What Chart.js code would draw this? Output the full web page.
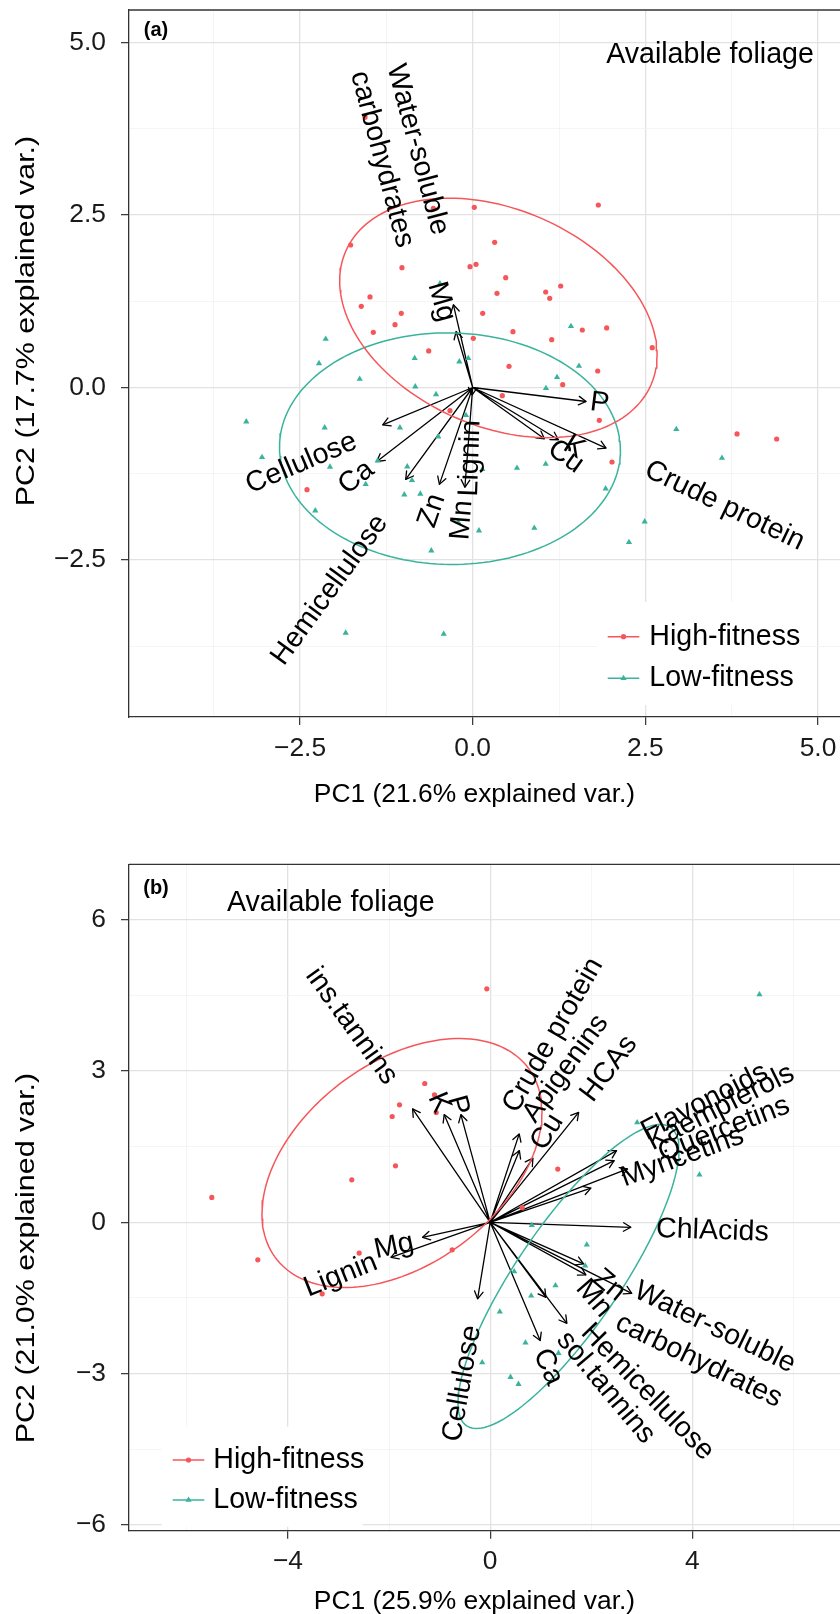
<!DOCTYPE html>
<html><head><meta charset="utf-8">
<script src="https://cdn.jsdelivr.net/npm/chart.js@4.4.1/dist/chart.umd.min.js"></script>
<style>
html,body{margin:0;padding:0;background:#fff;}
#wrapA{position:absolute;left:0;top:0;width:840px;height:830px;}
#wrapB{position:absolute;left:0;top:830px;width:840px;height:784px;}
canvas{display:block;}
</style></head><body>
<div id="wrapA"><canvas id="cA" width="840" height="830"></canvas></div>
<div id="wrapB"><canvas id="cB" width="840" height="784"></canvas></div>
<script>
// ---------------- DATA : panel (a) ----------------
const groups = ['High-fitness', 'Low-fitness'];
const highA_pc1 = [-1.559,-0.570,0.023,-1.767,-1.024,-0.039,0.048,-1.487,-1.613,-1.034,-1.125,-1.439,0.009,-0.637,1.819,0.318,0.478,0.352,1.057,1.115,1.274,0.145,0.583,1.144,1.587,1.94,2.6,-0.329,-2.399,0.526,1.81,1.303,0.429,1.833,2.017,3.827,4.401];
const highA_pc2 = [3.913,2.595,2.61,2.064,1.735,1.75,1.784,1.311,1.176,1.074,0.91,0.799,0.712,0.529,2.643,2.103,1.59,1.364,1.383,1.292,1.47,1.074,0.808,0.692,0.833,0.862,0.577,-0.336,-1.48,0.307,0.239,0.041,-0.119,-0.475,-1.079,-0.673,-0.746];
const lowA_pc1 = [-2.128,-0.474,-0.84,-0.064,-2.225,-0.194,-1.636,-0.831,-0.531,-3.278,-2.143,-1.053,-0.498,-0.097,-3.05,-2.066,-1.376,-0.947,-0.879,-1.549,-0.99,-0.758,-2.279,-0.208,0.091,-0.599,-1.839,-0.42,1.423,1.539,1.221,1.061,2.948,3.609,0.641,1.057,1.925,0.892,2.49,2.263,0.14];
const lowA_pc2 = [0.702,1.503,0.423,0.423,0.35,0.374,0.123,0.012,-0.099,-0.495,-0.582,-0.582,-0.712,-0.403,-1.011,-1.151,-1.06,-1.147,-1.344,-1.402,-1.552,-1.542,-1.784,-1.952,-2.074,-2.363,-3.555,-3.57,0.886,0.311,0.148,-0.012,-0.605,-1.021,-1.166,-1.108,-1.465,-2.035,-1.943,-2.242,-1.185];
const varsA = ['Water-soluble carbohydrates','Mg','P','Crude protein','Cu','K','Lignin','Cellulose','Ca','Hemicellulose','Zn','Mn'];
const loadA_pc1 = [-0.279,-0.240,1.642,1.931,1.038,1.241,-0.01,-1.303,-1.387,-0.970,-0.482,-0.113];
const loadA_pc2 = [1.198,0.811,-0.203,-0.878,-0.743,-0.757,-0.11,-0.54,-1.072,-1.332,-1.403,-1.445];
// ellipse: centre pc1, centre pc2, half-width pc1, half-height pc2, pc2 offset at the pc1 extreme
const ellHighA = [0.372, 1.007, 2.298, 1.734, -0.536];
const ellLowA  = [-0.329, -0.886, 2.468, 1.677, -0.025];
const xTicksA = [-3.75,-2.5,-1.25,0,1.25,2.5,3.75,5];
const xTickLabelsA = ['','\u22122.5','','0.0','','2.5','','5.0'];
const yTicksA = [-3.75,-2.5,-1.25,0,1.25,2.5,3.75,5];
const yTickLabelsA = ['','\u22122.5','','0.0','','2.5','','5.0'];

// ---------------- DATA : panel (b) ----------------
const highB_pc1 = [-1.294,-1.102,-1.794,-1.939,-1.068,-1.873,-2.738,-5.507,-0.067,1.337,-4.597,-2.592,-3.324,-0.752,0.633];
const highB_pc2 = [2.751,2.527,2.329,2.097,2.176,1.12,0.842,0.492,4.628,1.054,-0.743,-0.611,-1.417,-0.545,0.293];
const lowB_pc1 = [5.327,2.908,4.14,0.823,1.911,1.879,0.475,1.292,0.811,0.19,0.698,1.351,-0.158,0.402,0.56];
const lowB_pc2 = [4.515,1.978,0.942,-0.056,-0.446,-0.862,-0.975,-1.253,-1.457,-1.774,-2.388,-2.593,-2.779,-3.068,-3.207];
const varsB = ['ins.tannins','K','P','Crude protein','Apigenins','Cu','HCAs','Flavonoids','Kaempferols','Quercetins','Myricetins','ChlAcids','Zn','Mn','Water-soluble carbohydrates','Hemicellulose','sol.tannins','Ca','Cellulose','Mg','Lignin'];
const loadB_pc1 = [-1.535,-0.91,-0.58,0.574,0.578,0.845,1.75,2.50,2.453,2.718,1.992,2.783,1.848,1.893,2.8,1.517,1.102,0.989,-0.249,-1.337,-1.964];
const loadB_pc2 = [2.248,2.135,2.135,1.752,1.421,1.273,2.18,1.421,1.223,1.058,0.678,-0.099,-0.825,-1.043,-1.41,-2.002,-1.487,-2.345,-1.518,-0.297,-0.694];
const ellHighB = [-1.745, 1.175, 2.77, 2.468, 1.01];
const ellLowB  = [1.549, -1.074, 2.186, 3.013, 2.507];
const xTicksB = [-6,-4,-2,0,2,4,6];
const xTickLabelsB = ['','\u22124','','0','','4',''];
const yTicksB = [-6,-4.5,-3,-1.5,0,1.5,3,4.5,6];
const yTickLabelsB = ['\u22126','','\u22123','','0','','3','','6'];

// ---------------- text annotations (anchor in data units, rotation in degrees) ----------------
const labelsA = [
  {t:'Water-soluble\ncarbohydrates', x:-1.057, y:3.374, a:-75},
  {t:'Mg', x:-0.453, y:1.243, a:-74},
  {t:'Cellulose', x:-2.48, y:-1.098, a:23},
  {t:'Ca', x:-1.684, y:-1.303, a:37.7},
  {t:'Hemicellulose', x:-2.07, y:-2.933, a:54},
  {t:'Zn', x:-0.589, y:-1.784, a:71},
  {t:'Mn', x:-0.155, y:-1.919, a:85.5},
  {t:'Lignin', x:-0.033, y:-1.025, a:88},
  {t:'P', x:1.839, y:-0.229, a:-7},
  {t:'K', x:1.467, y:-0.866, a:-31.4},
  {t:'Cu', x:1.346, y:-1.002, a:-35.6},
  {t:'Crude protein', x:3.648, y:-1.713, a:-25.6},
  {t:'Available foliage', x:3.436, y:4.812, a:0}
];
const labelsB = [
  {t:'ins.tannins', x:-2.744, y:3.889, a:-54},
  {t:'K', x:-1.013, y:2.373, a:-66.9},
  {t:'P', x:-0.637, y:2.319, a:-74.8},
  {t:'Crude protein', x:1.246, y:3.707, a:60},
  {t:'Apigenins', x:1.494, y:3.047, a:54},
  {t:'Cu', x:1.131, y:1.79, a:58},
  {t:'HCAs', x:2.35, y:3.047, a:53},
  {t:'Flavonoids', x:4.243, y:2.385, a:27},
  {t:'Kaempferols', x:4.56, y:2.273, a:26.6},
  {t:'Quercetins', x:4.625, y:1.843, a:21},
  {t:'Myricetins', x:3.802, y:1.294, a:20},
  {t:'ChlAcids', x:4.396, y:-0.172, a:-2},
  {t:'Zn', x:2.35, y:-1.249, a:-40},
  {t:'Mn', x:2.053, y:-1.512, a:-49},
  {t:'Water-soluble\ncarbohydrates', x:4.283, y:-2.418, a:-25.8},
  {t:'Hemicellulose', x:3.11, y:-3.364, a:-46},
  {t:'sol.tannins', x:2.285, y:-3.277, a:-50},
  {t:'Ca', x:1.144, y:-2.868, a:-65},
  {t:'Cellulose', x:-0.55, y:-3.197, a:80},
  {t:'Mg', x:-1.903, y:-0.476, a:12},
  {t:'Lignin', x:-2.957, y:-1.051, a:21.8},
  {t:'Available foliage', x:-3.153, y:6.319, a:0}
];

// ---------------- rendering ----------------
const FONT = '"Liberation Sans", Arial, Helvetica, sans-serif';
const RED = '#F6565A', GREEN = '#3AB39C';
Chart.defaults.font.family = FONT;

function pts(xs, ys){ return xs.map((v,i)=>({x:v, y:ys[i]})); }
function ellipsePath(p){
  const [cx,cy,rx,ry,k] = p, q = Math.sqrt(Math.max(ry*ry-k*k,0)), out=[];
  for(let i=0;i<=160;i++){ const t=2*Math.PI*i/160; out.push({x:cx+rx*Math.cos(t), y:cy+k*Math.cos(t)+q*Math.sin(t)}); }
  return out;
}
function arrowSegs(xs, ys){ const d=[]; xs.forEach((v,i)=>{ d.push({x:0,y:0},{x:v,y:ys[i]},{x:v,y:null}); }); return d; }

function drawMarker(ctx, kind, x, y){
  ctx.beginPath();
  if(kind==='circle'){ ctx.arc(x,y,2.6,0,2*Math.PI); }
  else { const r=3.6; for(let j=0;j<3;j++){ const a=j*2*Math.PI/3; const px=x+Math.sin(a)*r, py=y-Math.cos(a)*r; j?ctx.lineTo(px,py):ctx.moveTo(px,py);} ctx.closePath(); }
  ctx.fill();
}

const biplot = {
  id:'biplot',
  afterDatasetDraw(chart, args, o){
    if(args.index !== 3) return;
    const ctx = chart.ctx, p = args.meta.data;
    ctx.save(); ctx.strokeStyle='#000'; ctx.lineWidth=1.3; ctx.lineCap='round'; ctx.lineJoin='round';
    for(let i=1;i<p.length;i+=3){
      const o0=p[i-1], t=p[i]; if(!t || !isFinite(t.y)) continue;
      const a=Math.atan2(t.y-o0.y, t.x-o0.x), L=8.5, s=Math.PI/6;
      ctx.beginPath();
      ctx.moveTo(t.x-L*Math.cos(a-s), t.y-L*Math.sin(a-s));
      ctx.lineTo(t.x, t.y);
      ctx.lineTo(t.x-L*Math.cos(a+s), t.y-L*Math.sin(a+s));
      ctx.stroke();
    }
    ctx.restore();
  },
  afterDatasetsDraw(chart, args, o){
    const {ctx, chartArea:ca, scales:{x,y}} = chart;
    ctx.save();
    ctx.fillStyle='#000'; ctx.font='28.6px '+FONT; ctx.textAlign='center'; ctx.textBaseline='middle';
    o.labels.forEach(l=>{
      const px=x.getPixelForValue(l.x), py=y.getPixelForValue(l.y);
      ctx.save(); ctx.translate(px,py); ctx.rotate(-l.a*Math.PI/180);
      const lines=l.t.split('\n');
      lines.forEach((s,i)=>ctx.fillText(s,0,(i-(lines.length-1)/2)*37));
      ctx.restore();
    });
    // legend
    const lg=o.legend;
    ctx.fillStyle='#fff'; ctx.fillRect(ca.left+lg.bx, ca.bottom-lg.by, lg.bw, lg.bh);
    [[RED,'circle',groups[0]],[GREEN,'triangle',groups[1]]].forEach((r,i)=>{
      const yy = ca.bottom - lg.rows[i];
      ctx.strokeStyle=r[0]; ctx.lineWidth=1.5; ctx.beginPath(); ctx.moveTo(ca.left+lg.lx0,yy); ctx.lineTo(ca.left+lg.lx1,yy); ctx.stroke();
      ctx.fillStyle=r[0]; drawMarker(ctx, r[1], ca.left+(lg.lx0+lg.lx1)/2, yy);
      ctx.fillStyle='#000'; ctx.textAlign='left'; ctx.textBaseline='middle'; ctx.font='28.6px '+FONT;
      ctx.fillText(r[2], ca.left+lg.tx, yy);
    });
    ctx.restore();
  },
  afterDraw(chart, args, o){
    const {ctx, chartArea:ca} = chart;
    ctx.save();
    ctx.strokeStyle='#333'; ctx.lineWidth=1.3; ctx.beginPath(); ctx.moveTo(ca.left, ca.top); ctx.lineTo(ca.right, ca.top); ctx.stroke();
    ctx.fillStyle='#000'; ctx.font='bold 20px '+FONT; ctx.textAlign='center'; ctx.textBaseline='middle';
    ctx.fillText(o.tag, ca.left+27, ca.top+o.tagDy);
    ctx.font='26.4px '+FONT; ctx.textBaseline='alphabetic';
    ctx.fillText(o.xTitle, o.xTitlePos[0], o.xTitlePos[1]);
    ctx.save(); ctx.translate(o.yTitlePos[0], o.yTitlePos[1]); ctx.rotate(-Math.PI/2); ctx.scale(1.153,1);
    ctx.fillText(o.yTitle, 0, 0); ctx.restore();
    ctx.restore();
  }
};

function makeChart(id, d){
  const majorX = i => d.xl[i] !== '', majorY = i => d.yl[i] !== '';
  const axisFont = {size:26.4, family:FONT};
  return new Chart(document.getElementById(id), {
    type:'scatter',
    data:{ datasets:[
      {label:'ellHigh', data:ellipsePath(d.eh), showLine:true, borderColor:RED, borderWidth:1.5, pointRadius:0, fill:false, order:0},
      {label:'ellLow', data:ellipsePath(d.el), showLine:true, borderColor:GREEN, borderWidth:1.5, pointRadius:0, fill:false, order:1},
      {label:groups[0], data:pts(d.hx,d.hy), pointStyle:'circle', pointRadius:2.6, backgroundColor:RED, borderWidth:0, order:2},
      {label:'arrows', data:arrowSegs(d.vx,d.vy), showLine:true, spanGaps:false, borderColor:'#000', borderWidth:1.3, pointRadius:0, order:4},
      {label:groups[1], data:pts(d.lx,d.ly), pointStyle:'triangle', pointRadius:3.6, backgroundColor:GREEN, borderWidth:0, order:3}
    ]},
    options:{
      responsive:false, animation:false, devicePixelRatio:1, events:[],
      layout:{padding:{left:0,right:0,top:d.padTop,bottom:0}, autoPadding:false},
      plugins:{ legend:{display:false}, tooltip:{enabled:false},
        biplot:{labels:d.labels, legend:d.legend, tag:d.tag, tagDy:d.tagDy, xTitle:d.xTitle, yTitle:d.yTitle, xTitlePos:d.xTitlePos, yTitlePos:d.yTitlePos} },
      scales:{
        x:{ type:'linear', position:'bottom', min:d.xmin, max:d.xmax,
          afterBuildTicks:s=>{ s.ticks = d.xt.map(v=>({value:v})); },
          afterFit:s=>{ s.height = d.xAxisH; s.paddingLeft = 0; s.paddingRight = 0; },
          ticks:{ autoSkip:false, maxRotation:0, minRotation:0, includeBounds:false, padding:7.4, color:'#1a1a1a', font:axisFont, callback:(v,i)=>d.xl[i] },
          grid:{ color:c=>majorX(c.index)?'#E2E2E2':'#F2F2F2', lineWidth:c=>majorX(c.index)?1.3:0.8,
                 tickColor:c=>majorX(c.index)?'#333':'rgba(0,0,0,0)', tickLength:8, tickWidth:1.2 },
          border:{display:true, color:'#333', width:1.3}, title:{display:false} },
        y:{ type:'linear', position:'left', min:d.ymin, max:d.ymax,
          afterBuildTicks:s=>{ s.ticks = d.yt.map(v=>({value:v})); },
          afterFit:s=>{ s.width = 129; s.paddingTop = 0; s.paddingBottom = 0; },
          ticks:{ autoSkip:false, includeBounds:false, padding:15, color:'#1a1a1a', font:axisFont, callback:(v,i)=>d.yl[i] },
          grid:{ color:c=>majorY(c.index)?'#E2E2E2':'#F2F2F2', lineWidth:c=>majorY(c.index)?1.3:0.8,
                 tickColor:c=>majorY(c.index)?'#333':'rgba(0,0,0,0)', tickLength:8, tickWidth:1.2 },
          border:{display:true, color:'#333', width:1.3}, title:{display:false} }
      }
    },
    plugins:[biplot]
  });
}

makeChart('cA', {
  hx:highA_pc1, hy:highA_pc2, lx:lowA_pc1, ly:lowA_pc2, vx:loadA_pc1, vy:loadA_pc2,
  eh:ellHighA, el:ellLowA, xt:xTicksA, xl:xTickLabelsA, yt:yTicksA, yl:yTickLabelsA,
  xmin:-4.976, xmax:5.318, ymin:-4.772, ymax:5.467, padTop:10, xAxisH:113,
  labels:labelsA, tag:'(a)', tagDy:20,
  legend:{bx:468, by:115, bw:203, bh:103, rows:[80.3,38.7], lx0:478.7, lx1:510.3, tx:520.3},
  xTitle:'PC1 (21.6% explained var.)', xTitlePos:[474.5, 802],
  yTitle:'PC2 (17.7% explained var.)', yTitlePos:[33.5, 321]
});
makeChart('cB', {
  hx:highB_pc1, hy:highB_pc2, lx:lowB_pc1, ly:lowB_pc2, vx:loadB_pc1, vy:loadB_pc2,
  eh:ellHighB, el:ellLowB, xt:xTicksB, xl:xTickLabelsB, yt:yTicksB, yl:yTickLabelsB,
  xmin:-7.145, xmax:6.92, ymin:-6.113, ymax:7.096, padTop:34.3, xAxisH:83.3,
  labels:labelsB, tag:'(b)', tagDy:24,
  legend:{bx:32.7, by:104, bw:201, bh:100, rows:[70.7,30.7], lx0:43.7, lx1:75.3, tx:84.3},
  xTitle:'PC1 (25.9% explained var.)', xTitlePos:[474.5, 779],
  yTitle:'PC2 (21.0% explained var.)', yTitlePos:[33.5, 428]
});
</script></body></html>
